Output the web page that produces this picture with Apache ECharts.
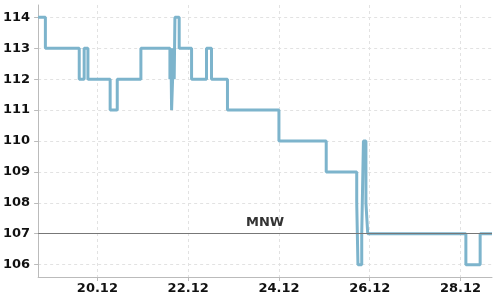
<!DOCTYPE html>
<html>
<head>
<meta charset="utf-8">
<script src="https://cdn.jsdelivr.net/npm/echarts@6/dist/echarts.min.js"></script>
<style>html,body{margin:0;padding:0;background:#fff}#c{width:500px;height:300px}</style>
</head>
<body>
<div id="c"></div>
<script>
// Data (step values; each value holds until the next time)
const times = [
  '2023-12-18 16:40','2023-12-18 20:30','2023-12-19 14:24','2023-12-19 17:00','2023-12-19 19:00',
  '2023-12-20 06:45','2023-12-20 10:30','2023-12-20 23:00',
  '2023-12-21 14:21','2023-12-21 14:53','2023-12-21 15:14','2023-12-21 15:46','2023-12-21 16:12','2023-12-21 16:37',
  '2023-12-21 17:00','2023-12-21 19:15',
  '2023-12-22 01:48','2023-12-22 09:42','2023-12-22 12:20','2023-12-22 20:47',
  '2023-12-24 00:00','2023-12-25 01:00',
  '2023-12-25 17:08','2023-12-25 17:47','2023-12-25 19:47','2023-12-25 20:41','2023-12-25 22:00','2023-12-25 22:57',
  '2023-12-28 02:51','2023-12-28 10:24','2023-12-28 16:40'
];
const levels = [
  114,113,112,113,112,
  111,112,113,
  112,113,111,112,113,112,
  114,113,
  112,113,112,111,
  110,109,
  108,106,107,110,108,107,
  106,107,107
];
const mnwValue = 107;
const mnwLabel = 'MNW';
const xTickDates = ['2023-12-20 00:00','2023-12-22 00:00','2023-12-24 00:00','2023-12-26 00:00','2023-12-28 00:00'];
const xTickLabels = ['20.12','22.12','24.12','26.12','28.12'];
const yTicks = [106,107,108,109,110,111,112,113,114];

const parseT = s => { const [d,t] = s.split(' '); const [y,m,dd] = d.split('-').map(Number); const [h,mi] = t.split(':').map(Number); return Date.UTC(y,m-1,dd,h,mi); };
const xTickValues = xTickDates.map(parseT);
const seriesData = times.map((t,i) => [parseT(t), levels[i]]);

const labelFont = {fontFamily:'DejaVu Sans', fontWeight:'bold', fontSize:13, color:'#111'};
const chart = echarts.init(document.getElementById('c'), null, {renderer:'canvas'});
chart.setOption({
  animation:false,
  grid:{left:38, right:8, top:5, bottom:23, containLabel:false},
  xAxis:{
    type:'value',
    min: parseT('2023-12-18 16:40'),
    max: parseT('2023-12-28 16:40'),
    axisLine:{show:true, lineStyle:{color:'#bbbbbb', width:1}},
    axisTick:{show:true, customValues:xTickValues, length:4, lineStyle:{color:'#bbbbbb'}},
    axisLabel:Object.assign({customValues:xTickValues, margin:5,
      formatter:v => { const i = xTickValues.indexOf(v); return i>=0 ? xTickLabels[i] : ''; }}, labelFont),
    splitLine:{show:true, lineStyle:{color:'#e2e2e2', type:[3,3], width:1}}
  },
  yAxis:{
    type:'value',
    min:105.6, max:114.4,
    axisLine:{show:true, lineStyle:{color:'#bbbbbb', width:1}},
    axisTick:{show:true, customValues:yTicks, length:4, lineStyle:{color:'#bbbbbb'}},
    axisLabel:Object.assign({customValues:yTicks, margin:8}, labelFont),
    splitLine:{show:true, lineStyle:{color:'#e2e2e2', type:[3,3], width:1}}
  },
  series:[{
    type:'line',
    step:'end',
    data:seriesData,
    showSymbol:false,
    lineStyle:{color:'#7db4cc', width:3},
    itemStyle:{color:'#7db4cc'},
    markLine:{
      silent:true,
      symbol:['none','none'],
      lineStyle:{color:'#777777', width:1, type:'solid'},
      label:{show:true, position:'middle', formatter:mnwLabel, fontFamily:'DejaVu Sans', fontWeight:'bold', fontSize:13, color:'#333'},
      data:[{yAxis:mnwValue}]
    }
  }]
});
</script>
</body>
</html>
